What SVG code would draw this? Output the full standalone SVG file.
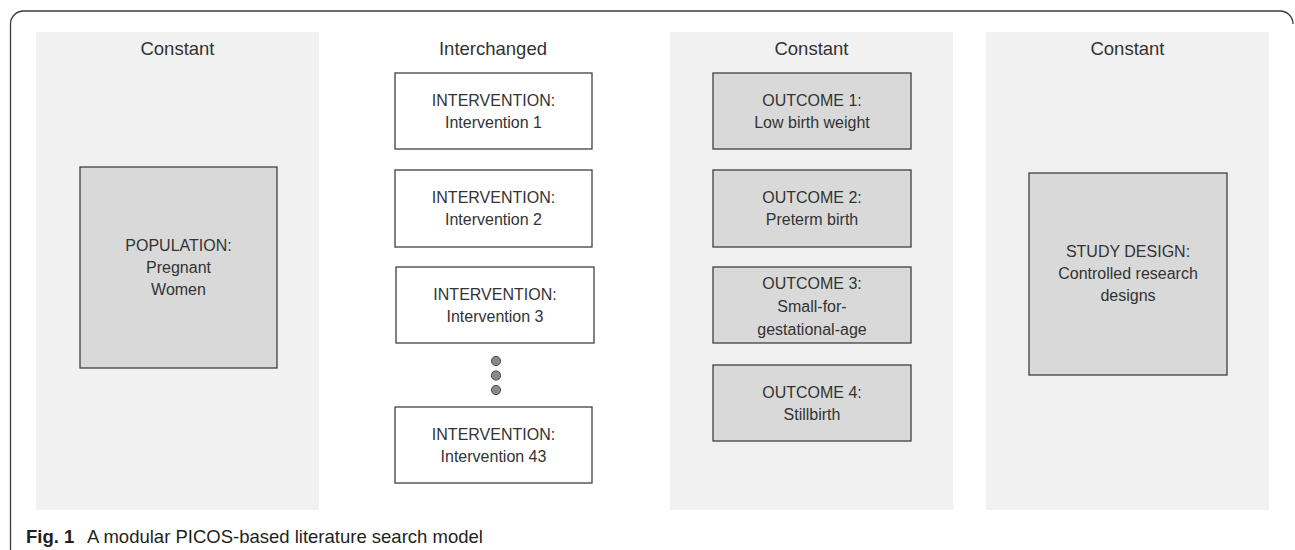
<svg xmlns="http://www.w3.org/2000/svg" width="1295" height="550" viewBox="0 0 1295 550">
<style>
  text { font-family: "Liberation Sans", Arial, sans-serif; fill: #333333; text-anchor: middle; }
  .title { font-size: 18.5px; }
  .lbl { font-size: 16px; }
  .panel { fill: #f1f1f1; stroke: none; }
  .grey { fill: #d9d9d9; stroke: #404040; stroke-width: 1.3; }
  .white { fill: #ffffff; stroke: #404040; stroke-width: 1.3; }
  .dot { fill: #8a8a8a; stroke: #4a4a4a; stroke-width: 1; }
  .cap { font-size: 18.5px; text-anchor: start; fill: #231f20; }
</style>
<rect width="1295" height="550" fill="#ffffff"/>
<path d="M10.5 550 V24 A13 13 0 0 1 23.5 11 H1280 A13 13 0 0 1 1293 24" fill="none" stroke="#3a3a3a" stroke-width="1.3"/>

<g id="panel-population">
  <rect class="panel" x="36" y="32" width="283" height="478"/>
  <text class="title" x="177.5" y="55">Constant</text>
</g>
<g id="panel-intervention">
  <text class="title" x="493" y="55">Interchanged</text>
</g>
<g id="panel-outcome">
  <rect class="panel" x="670" y="32" width="283" height="478"/>
  <text class="title" x="811.5" y="55">Constant</text>
</g>
<g id="panel-study">
  <rect class="panel" x="986" y="32" width="283" height="478"/>
  <text class="title" x="1127.5" y="55">Constant</text>
</g>

<g id="population">
  <rect class="grey" x="80" y="167" width="197" height="201"/>
  <text class="lbl" x="178.5" y="251">POPULATION:</text>
  <text class="lbl" x="178.5" y="273">Pregnant</text>
  <text class="lbl" x="178.5" y="295">Women</text>
</g>

<g id="intervention-1">
  <rect class="white" x="395" y="73" width="197" height="76"/>
  <text class="lbl" x="493.5" y="106">INTERVENTION:</text>
  <text class="lbl" x="493.5" y="128">Intervention 1</text>
</g>
<g id="intervention-2">
  <rect class="white" x="395" y="170" width="197" height="77"/>
  <text class="lbl" x="493.5" y="203">INTERVENTION:</text>
  <text class="lbl" x="493.5" y="225">Intervention 2</text>
</g>
<g id="intervention-3">
  <rect class="white" x="396" y="267" width="198" height="76"/>
  <text class="lbl" x="495" y="300">INTERVENTION:</text>
  <text class="lbl" x="495" y="322">Intervention 3</text>
</g>
<g id="ellipsis">
  <circle class="dot" cx="496" cy="361" r="4.6"/>
  <circle class="dot" cx="496" cy="375.5" r="4.6"/>
  <circle class="dot" cx="496" cy="390" r="4.6"/>
</g>
<g id="intervention-43">
  <rect class="white" x="395" y="407" width="197" height="76"/>
  <text class="lbl" x="493.5" y="440">INTERVENTION:</text>
  <text class="lbl" x="493.5" y="462">Intervention 43</text>
</g>

<g id="outcome-1">
  <rect class="grey" x="713" y="73" width="198" height="76"/>
  <text class="lbl" x="812" y="106">OUTCOME 1:</text>
  <text class="lbl" x="812" y="128">Low birth weight</text>
</g>
<g id="outcome-2">
  <rect class="grey" x="713" y="170" width="198" height="77"/>
  <text class="lbl" x="812" y="203">OUTCOME 2:</text>
  <text class="lbl" x="812" y="225">Preterm birth</text>
</g>
<g id="outcome-3">
  <rect class="grey" x="713" y="267" width="198" height="76"/>
  <text class="lbl" x="812" y="289">OUTCOME 3:</text>
  <text class="lbl" x="812" y="312">Small-for-</text>
  <text class="lbl" x="812" y="335">gestational-age</text>
</g>
<g id="outcome-4">
  <rect class="grey" x="713" y="365" width="198" height="76"/>
  <text class="lbl" x="812" y="398">OUTCOME 4:</text>
  <text class="lbl" x="812" y="420">Stillbirth</text>
</g>

<g id="study-design">
  <rect class="grey" x="1029" y="173" width="198" height="202"/>
  <text class="lbl" x="1128" y="257">STUDY DESIGN:</text>
  <text class="lbl" x="1128" y="279">Controlled research</text>
  <text class="lbl" x="1128" y="301">designs</text>
</g>

<g id="connectors"></g>

<g id="caption">
  <text class="cap" x="26" y="543"><tspan font-weight="bold">Fig. 1</tspan><tspan x="87">A modular PICOS-based literature search model</tspan></text>
</g>
</svg>
